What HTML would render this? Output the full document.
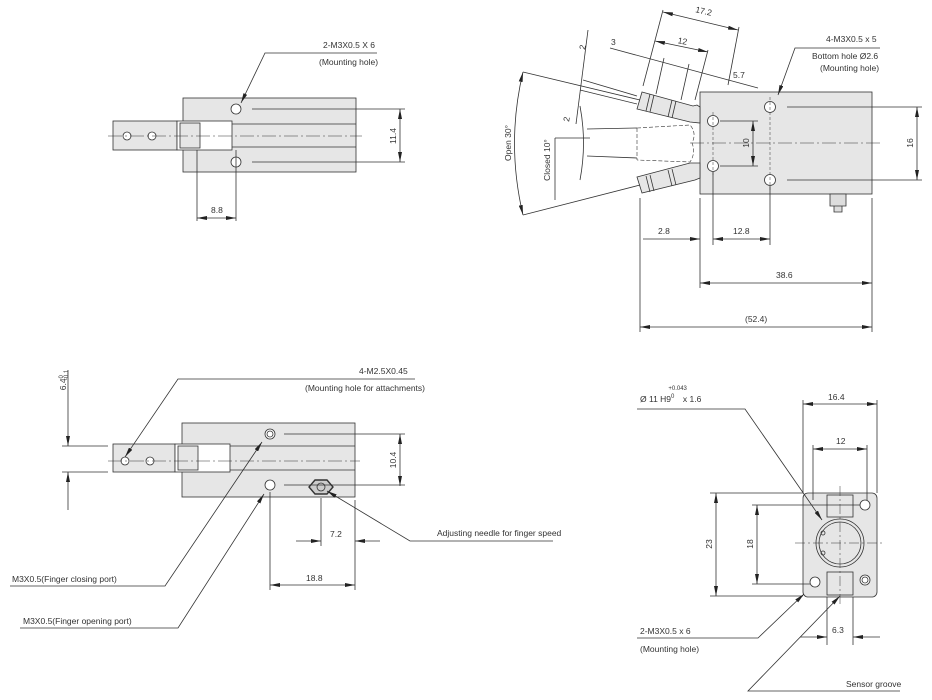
<!DOCTYPE html>
<html><head><meta charset="utf-8"><style>
html,body{margin:0;padding:0;background:#fff;}
svg{display:block;}
text{font-family:"Liberation Sans",sans-serif;font-size:8.5px;fill:#333;}
</style></head><body>
<svg width="932" height="700" viewBox="0 0 932 700" xmlns="http://www.w3.org/2000/svg">
<defs>
<marker id="a" viewBox="0 0 10 4" refX="10" refY="2" markerWidth="10" markerHeight="4" markerUnits="userSpaceOnUse" orient="auto-start-reverse"><path d="M0,0 L10,2 L0,4z" fill="#222"/></marker>
</defs>
<g stroke="#333" stroke-width="0.8" fill="none">

<!-- ===== TOP LEFT ===== -->
<rect x="183" y="98" width="173" height="74" fill="#e6e6e6"/>
<rect x="113" y="121" width="64" height="29" fill="#e6e6e6"/>
<rect x="177" y="121" width="55" height="29" fill="#fff"/>
<rect x="180" y="123" width="20" height="25" fill="#e6e6e6"/>
<line x1="232" y1="124" x2="356" y2="124"/><line x1="232" y1="147" x2="356" y2="147"/>
<circle cx="236" cy="109" r="5" fill="#fff"/><circle cx="236" cy="162" r="5" fill="#fff"/>
<circle cx="127" cy="136" r="4" fill="#fff"/><circle cx="152" cy="136" r="4" fill="#fff"/>
<line x1="108" y1="136" x2="362" y2="136" stroke-dasharray="14,3,2,3" stroke-width="0.5"/>
<line x1="252" y1="109" x2="405" y2="109"/><line x1="252" y1="162" x2="405" y2="162"/>
<line x1="400" y1="109" x2="400" y2="162" marker-start="url(#a)" marker-end="url(#a)"/>
<line x1="197" y1="150" x2="197" y2="221"/><line x1="236" y1="150" x2="236" y2="221"/>
<line x1="197" y1="218" x2="236" y2="218" marker-start="url(#a)" marker-end="url(#a)"/>
<polyline points="241,103 265,53 377,53" marker-start="url(#a)"/>

<!-- ===== TOP RIGHT ===== -->
<rect x="700" y="92" width="172" height="102" fill="#e6e6e6"/>
<circle cx="713" cy="121" r="5.5" fill="#fff"/><circle cx="713" cy="166" r="5.5" fill="#fff"/>
<circle cx="770" cy="107" r="5.5" fill="#fff"/><circle cx="770" cy="180" r="5.5" fill="#fff"/>
<line x1="690" y1="143" x2="880" y2="143" stroke-dasharray="14,3,2,3" stroke-width="0.5"/>
<line x1="770" y1="97" x2="770" y2="190" stroke-dasharray="3,2" stroke-width="0.5"/>
<line x1="713" y1="112" x2="713" y2="176" stroke-dasharray="3,2" stroke-width="0.5"/>
<path d="M642,92 L693,106 L697,105 L700,107 L700,123 L690,122 L637,109 Z" fill="#e6e6e6"/>
<path d="M637,177 L690,163 L700,163 L700,178 L695,180 L642,193 Z" fill="#e6e6e6"/>
<line x1="650" y1="94" x2="646" y2="111"/><line x1="654" y1="95" x2="650" y2="112"/>
<line x1="672" y1="100" x2="668" y2="117"/><line x1="676" y1="101" x2="672" y2="118"/>
<line x1="646" y1="176" x2="650" y2="192"/><line x1="650" y1="175" x2="654" y2="191"/>
<line x1="668" y1="170" x2="672" y2="186"/><line x1="672" y1="169" x2="676" y2="185"/>
<path d="M637,128 L690,125 Q697,133 692,143 Q696,153 690,162 L637,160" stroke-dasharray="4,2" stroke-width="0.6"/>
<line x1="637" y1="128" x2="637" y2="160" stroke-dasharray="4,2" stroke-width="0.6"/>
<line x1="720" y1="121" x2="758" y2="121"/><line x1="720" y1="166" x2="758" y2="166"/>
<line x1="753" y1="121" x2="753" y2="166" marker-start="url(#a)" marker-end="url(#a)"/>
<line x1="787" y1="107" x2="922" y2="107"/><line x1="787" y1="180" x2="922" y2="180"/>
<line x1="917" y1="107" x2="917" y2="180" marker-start="url(#a)" marker-end="url(#a)"/>
<path d="M830,194 h16 v12 h-16z M834,206 h8 v6 h-8z" fill="#ddd"/>
<line x1="640" y1="198" x2="640" y2="332"/><line x1="700" y1="198" x2="700" y2="288"/>
<line x1="713" y1="172" x2="713" y2="245"/><line x1="770" y1="186" x2="770" y2="245"/>
<line x1="872" y1="198" x2="872" y2="332"/>
<line x1="643" y1="239" x2="700" y2="239" marker-end="url(#a)"/>
<line x1="713" y1="239" x2="770" y2="239" marker-start="url(#a)" marker-end="url(#a)"/>
<line x1="700" y1="283" x2="872" y2="283" marker-start="url(#a)" marker-end="url(#a)"/>
<line x1="640" y1="327" x2="872" y2="327" marker-start="url(#a)" marker-end="url(#a)"/>
<!-- angle -->
<path d="M523,72 Q506,143 523,215" marker-start="url(#a)" marker-end="url(#a)"/>
<line x1="523" y1="72" x2="640" y2="100"/><line x1="523" y1="215" x2="640" y2="185"/>
<path d="M580,106 Q587,143 580,180"/>
<line x1="587" y1="129" x2="637" y2="128"/><line x1="587" y1="156" x2="637" y2="158"/>
<line x1="555" y1="138" x2="590" y2="138"/><line x1="555" y1="138" x2="555" y2="200"/>
<line x1="583" y1="80" x2="637" y2="96"/><line x1="580" y1="90" x2="637" y2="104"/>
<line x1="588" y1="30" x2="576" y2="124"/>
<!-- slanted dims -->
<line x1="663" y1="12" x2="738" y2="30" marker-start="url(#a)" marker-end="url(#a)"/>
<line x1="663" y1="10" x2="643" y2="86"/><line x1="739" y1="27" x2="728" y2="85"/>
<line x1="655" y1="41" x2="708" y2="52" marker-start="url(#a)" marker-end="url(#a)"/>
<line x1="708" y1="50" x2="695" y2="100"/><line x1="664" y1="58" x2="656" y2="94"/><line x1="689" y1="64" x2="681" y2="100"/>
<line x1="610" y1="48" x2="758" y2="88"/>
<polyline points="778,95 795,48 880,48" marker-start="url(#a)"/>

<!-- ===== BOTTOM LEFT ===== -->
<rect x="182" y="423" width="173" height="74" fill="#e6e6e6"/>
<rect x="113" y="444" width="62" height="28" fill="#e6e6e6"/>
<rect x="175" y="444" width="55" height="28" fill="#fff"/>
<rect x="178" y="446" width="20" height="24" fill="#e6e6e6"/>
<line x1="230" y1="446" x2="355" y2="446"/><line x1="230" y1="470" x2="355" y2="470"/>
<circle cx="270" cy="434" r="5" fill="#fff"/><circle cx="270" cy="434" r="3"/>
<circle cx="270" cy="485" r="5" fill="#fff"/>
<path d="M315,480 L327,480 L333,487 L327,494 L315,494 L309,487Z" fill="#ccc" stroke-width="1.4"/>
<circle cx="321" cy="487" r="4"/>
<circle cx="125" cy="461" r="4" fill="#fff"/><circle cx="150" cy="461" r="4" fill="#fff"/>
<line x1="108" y1="461" x2="360" y2="461" stroke-dasharray="14,3,2,3" stroke-width="0.5"/>
<line x1="284" y1="434" x2="405" y2="434"/><line x1="284" y1="485" x2="405" y2="485"/>
<line x1="400" y1="434" x2="400" y2="486" marker-start="url(#a)" marker-end="url(#a)"/>
<line x1="62" y1="446" x2="108" y2="446"/><line x1="62" y1="472" x2="108" y2="472"/>
<line x1="68" y1="370" x2="68" y2="446" marker-end="url(#a)"/><line x1="68" y1="472" x2="68" y2="510" marker-start="url(#a)"/>
<line x1="270" y1="492" x2="270" y2="590"/><line x1="321" y1="498" x2="321" y2="546"/><line x1="355" y1="500" x2="355" y2="590"/>
<line x1="296" y1="541" x2="321" y2="541" marker-end="url(#a)"/><line x1="380" y1="541" x2="355" y2="541" marker-end="url(#a)"/>
<line x1="270" y1="585" x2="355" y2="585" marker-start="url(#a)" marker-end="url(#a)"/>
<polyline points="125,457 178,379 415,379" marker-start="url(#a)"/>
<polyline points="262,442 165,586 10,586" marker-start="url(#a)"/>
<polyline points="264,494 178,628 20,628" marker-start="url(#a)"/>
<polyline points="327,491 410,541 553,541" marker-start="url(#a)"/>

<!-- ===== BOTTOM RIGHT ===== -->
<rect x="803" y="493" width="74" height="104" rx="5" fill="#e6e6e6"/>
<rect x="827" y="495" width="26" height="22" fill="#e6e6e6"/>
<rect x="827" y="572" width="26" height="23" fill="#e6e6e6"/>
<circle cx="840" cy="543" r="24" fill="#e6e6e6"/><circle cx="840" cy="543" r="21"/>
<circle cx="823" cy="533" r="2"/><circle cx="823" cy="553" r="2"/>
<circle cx="865" cy="505" r="5" fill="#fff"/><circle cx="815" cy="582" r="5" fill="#fff"/>
<circle cx="865" cy="580" r="5" fill="#fff"/><circle cx="865" cy="580" r="3"/>
<line x1="795" y1="543" x2="885" y2="543" stroke-dasharray="10,3,2,3" stroke-width="0.5"/>
<line x1="840" y1="486" x2="840" y2="605" stroke-dasharray="10,3,2,3" stroke-width="0.5"/>
<line x1="803" y1="400" x2="803" y2="493"/><line x1="877" y1="400" x2="877" y2="493"/>
<line x1="803" y1="404" x2="877" y2="404" marker-start="url(#a)" marker-end="url(#a)"/>
<line x1="813" y1="445" x2="813" y2="500"/><line x1="867" y1="445" x2="867" y2="500"/>
<line x1="813" y1="449" x2="867" y2="449" marker-start="url(#a)" marker-end="url(#a)"/>
<line x1="710" y1="493" x2="803" y2="493"/><line x1="710" y1="596" x2="803" y2="596"/>
<line x1="716" y1="493" x2="716" y2="596" marker-start="url(#a)" marker-end="url(#a)"/>
<line x1="752" y1="505" x2="860" y2="505"/><line x1="752" y1="584" x2="810" y2="584"/>
<line x1="757" y1="505" x2="757" y2="584" marker-start="url(#a)" marker-end="url(#a)"/>
<line x1="827" y1="597" x2="827" y2="645"/><line x1="853" y1="597" x2="853" y2="645"/>
<line x1="800" y1="637" x2="827" y2="637" marker-end="url(#a)"/><line x1="880" y1="637" x2="853" y2="637" marker-end="url(#a)"/>
<polyline points="822,520 745,409 637,409" marker-start="url(#a)"/>
<polyline points="804,594 758,638 637,638" marker-start="url(#a)"/>
<polyline points="840,596 748,691 900,691" marker-start="url(#a)"/>
</g>

<!-- texts -->
<text x="323" y="48">2-M3X0.5 X 6</text>
<text x="319" y="65">(Mounting hole)</text>
<text x="211" y="213">8.8</text>
<text transform="translate(396,136) rotate(-90)" text-anchor="middle">11.4</text>

<text x="826" y="42">4-M3X0.5 x 5</text>
<text x="812" y="59">Bottom hole Ø2.6</text>
<text x="820" y="71">(Mounting hole)</text>
<text transform="translate(703,14) rotate(13)" text-anchor="middle">17.2</text>
<text transform="translate(682,44) rotate(10)" text-anchor="middle">12</text>
<text x="611" y="45">3</text>
<text x="733" y="78">5.7</text>
<text transform="translate(585,50) rotate(-80)">2</text>
<text transform="translate(569,122) rotate(-80)">2</text>
<text transform="translate(511,143) rotate(-90)" text-anchor="middle">Open 30°</text>
<text transform="translate(550,160) rotate(-90)" text-anchor="middle">Closed 10°</text>
<text transform="translate(749,143) rotate(-90)" text-anchor="middle">10</text>
<text transform="translate(913,143) rotate(-90)" text-anchor="middle">16</text>
<text x="658" y="234">2.8</text>
<text x="733" y="234">12.8</text>
<text x="776" y="278">38.6</text>
<text x="745" y="322">(52.4)</text>

<text x="359" y="374">4-M2.5X0.45</text>
<text x="305" y="391">(Mounting hole for attachments)</text>
<text transform="translate(66,380) rotate(-90)" text-anchor="middle">6.4<tspan font-size="6" dy="-3">0</tspan><tspan font-size="6" dx="-5" dy="5">-0.1</tspan></text>
<text transform="translate(396,460) rotate(-90)" text-anchor="middle">10.4</text>
<text x="330" y="537">7.2</text>
<text x="306" y="581">18.8</text>
<text x="437" y="536">Adjusting needle for finger speed</text>
<text x="12" y="582">M3X0.5(Finger closing port)</text>
<text x="23" y="624">M3X0.5(Finger opening port)</text>

<text x="828" y="400">16.4</text>
<text x="836" y="444">12</text>
<text transform="translate(712,544) rotate(-90)" text-anchor="middle">23</text>
<text transform="translate(753,544) rotate(-90)" text-anchor="middle">18</text>
<text x="832" y="633">6.3</text>
<text x="640" y="402">Ø 11 H9<tspan font-size="6" dy="-4">0</tspan><tspan font-size="6" dx="-6" dy="-8">+0.043</tspan><tspan dx="-4" dy="12">x  1.6</tspan></text>
<text x="640" y="634">2-M3X0.5 x 6</text>
<text x="640" y="652">(Mounting hole)</text>
<text x="846" y="687">Sensor groove</text>
</svg>
</body></html>
